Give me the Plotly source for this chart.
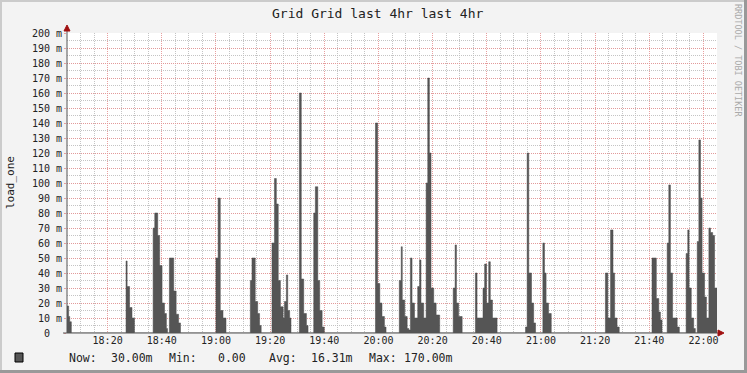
import datetime as dt
import plotly.graph_objects as go

# ---- data (minutes after 18:05, load_one in milli-units) ----
start = dt.datetime(2024, 1, 1, 18, 5, 0)
minutes = [0.0, 0.6, 1.0, 1.6,
           21.8, 22.2, 23.1, 24.0, 24.9,
           31.8, 32.4, 33.5, 34.2, 35.1, 36.0, 36.7, 37.1,
           37.8, 39.4, 40.3, 41.2, 41.9,
           55.0, 55.8, 56.6, 57.6, 58.7,
           67.7, 68.3, 69.5, 70.4, 71.1, 71.7,
           75.7, 76.6, 77.3, 78.0, 78.8, 79.8, 80.3, 81.0, 81.5, 82.2, 82.7,
           85.8, 86.5, 87.4, 88.4, 89.0,
           91.1, 91.7, 92.6, 93.3, 94.2, 95.0,
           113.9, 114.7, 115.5, 116.3, 117.2, 117.8,
           122.7, 123.4, 123.8, 124.7, 125.6, 126.2, 126.8, 127.4, 128.3, 129.5, 130.2, 130.7,
           131.7, 132.6, 133.2, 133.8, 134.4, 135.4, 136.3, 137.6,
           142.6, 143.3, 143.8, 144.6, 145.9,
           150.8, 151.4, 153.6, 154.2, 154.9, 155.7, 156.3, 157.1, 158.8,
           169.3, 169.9, 170.5, 171.5, 172.3, 173.0,
           175.7, 176.3, 176.9, 177.8, 178.8,
           198.8, 199.7, 200.7, 201.6, 202.2, 203.1, 203.9,
           216.0, 217.6, 218.5, 219.1, 219.7,
           221.6, 222.2, 222.8, 223.6, 225.3, 226.1,
           228.6, 229.2, 229.7, 230.5, 231.4, 232.0,
           232.7, 233.3, 233.9, 234.5, 235.4, 236.1, 237.0, 237.6, 238.4, 239.1, 240.0]
values = [18, 11, 7.5, 0,
          48, 31, 17, 10, 0,
          70, 80, 65, 45, 20, 13, 3, 0,
          50, 28, 12.5, 6.7, 0,
          50, 90, 15, 10, 0,
          35, 50, 21, 13, 5, 0,
          60, 103, 86, 35, 17.5, 10, 21, 38.7, 15, 10, 0,
          160, 36, 13, 5, 0,
          80, 97.5, 35, 15, 4, 0,
          140, 33, 20, 11, 4, 0,
          35, 57.5, 22, 11, 3, 2, 50, 20, 10, 31, 48.7, 20,
          10, 100, 170, 120, 30, 20, 12, 0,
          30, 58.7, 20, 11, 0,
          40, 10, 30, 46, 20, 47.5, 22, 10, 0,
          4, 120, 40, 20, 6.7, 0,
          60, 40, 20, 13, 0,
          40, 10, 68.7, 40, 10, 4, 0,
          50, 23, 14, 8.7, 0,
          60, 98.7, 40, 10, 4, 0,
          53, 68.7, 30, 10, 3, 0,
          61, 128.7, 90, 40, 24, 10, 70, 67, 65, 30, 30]
y_ticks = list(range(0, 201, 10))
y_labels = ["0\u00a0\u00a0"] + [f"{v}\u00a0m" for v in y_ticks[1:]]
legend_parts = [("Now:", 67), ("30.00m", 109), ("Min:", 167), ("0.00", 216),
                ("Avg:", 267), ("16.31m", 309), ("Max:", 367), ("170.00m", 402)]
title_text = "Grid Grid last 4hr last 4hr"
y_title = "load_one"
side_text = "RRDTOOL / TOBI OETIKER"

times = [start + dt.timedelta(minutes=m) for m in minutes]

W, H = 747, 373
L, R, T, B = 67, 30, 33, 40
PW, PH = W - L - R, H - T - B


def px(x):
    return (x - L) / PW


def py(y):
    return (H - B - y) / PH


MONO = "DejaVu Sans Mono"
fig = go.Figure()
fig.add_trace(go.Scatter(
    x=times, y=values, mode="lines", line=dict(shape="hv", width=0.5, color="#4a4a4a"),
    fill="tozeroy", fillcolor="#555555", hoverinfo="skip", showlegend=False))

grid_major = "rgba(230,150,150,0.9)"
grid_minor = "rgba(190,190,190,0.9)"
fig.update_layout(
    width=W, height=H, margin=dict(l=L, r=R, t=T, b=B),
    paper_bgcolor="#F3F3F3", plot_bgcolor="#FFFFFF",
    showlegend=False,
    xaxis=dict(
        type="date", range=[start, start + dt.timedelta(minutes=240)],
        tick0="2024-01-01 18:00:00", dtick=20 * 60 * 1000, tickformat="%H:%M",
        showgrid=True, gridcolor=grid_major, griddash="1px,1px", gridwidth=1,
        minor=dict(dtick=5 * 60 * 1000, tick0="2024-01-01 18:00:00", showgrid=True,
                   gridcolor=grid_minor, griddash="1px,1px", gridwidth=1),
        ticks="", 
        tickfont=dict(family=MONO, size=10, color="#222"),
        showline=False, zeroline=False, fixedrange=True),
    yaxis=dict(
        range=[0, 200], tickvals=y_ticks, ticktext=y_labels,
        showgrid=True, gridcolor=grid_major, griddash="1px,1px", gridwidth=1,
        minor=dict(dtick=5, showgrid=True, gridcolor=grid_minor, griddash="1px,1px", gridwidth=1),
        ticks="outside", ticklen=2, tickcolor=grid_major,
        tickfont=dict(family=MONO, size=10, color="#222"),
        showline=False, zeroline=False, fixedrange=True),
)

shapes = []
# axes lines
shapes.append(dict(type="line", xref="paper", yref="paper", x0=px(67), x1=px(67), y0=py(333), y1=py(30),
                   line=dict(color="#555", width=1)))
shapes.append(dict(type="line", xref="paper", yref="paper", x0=px(63), x1=px(719), y0=py(333), y1=py(333),
                   line=dict(color="#555", width=1)))
# arrows
shapes.append(dict(type="path", xref="paper", yref="paper",
                   path=f"M {px(64)},{py(31)} L {px(70)},{py(31)} L {px(67)},{py(25)} Z",
                   fillcolor="#A01010", line=dict(color="#A01010", width=1)))
shapes.append(dict(type="path", xref="paper", yref="paper",
                   path=f"M {px(718)},{py(330)} L {px(718)},{py(336)} L {px(724)},{py(333)} Z",
                   fillcolor="#A01010", line=dict(color="#A01010", width=1)))
# legend swatch
shapes.append(dict(type="rect", xref="paper", yref="paper", x0=px(15), x1=px(23), y0=py(362), y1=py(353),
                   fillcolor="#555555", line=dict(color="#000", width=1)))
# frame shading
shapes.append(dict(type="rect", xref="paper", yref="paper", x0=px(0), x1=px(747), y0=py(0), y1=py(2),
                   fillcolor="#CBCBCB", line=dict(width=0)))
shapes.append(dict(type="rect", xref="paper", yref="paper", x0=px(0), x1=px(2), y0=py(0), y1=py(373),
                   fillcolor="#CBCBCB", line=dict(width=0)))
shapes.append(dict(type="rect", xref="paper", yref="paper", x0=px(744), x1=px(747), y0=py(0), y1=py(373),
                   fillcolor="#999999", line=dict(width=0)))
shapes.append(dict(type="rect", xref="paper", yref="paper", x0=px(0), x1=px(747), y0=py(370), y1=py(373),
                   fillcolor="#999999", line=dict(width=0)))
fig.update_layout(shapes=shapes)

ann = []
ann.append(dict(text=title_text, xref="paper", yref="paper", x=px(377), y=py(13),
                xanchor="center", yanchor="middle", showarrow=False,
                font=dict(family=MONO, size=13, color="#222")))
ann.append(dict(text=y_title, xref="paper", yref="paper", x=px(10), y=py(183),
                xanchor="center", yanchor="middle", textangle=-90, showarrow=False,
                font=dict(family=MONO, size=11, color="#222")))
ann.append(dict(text=side_text, xref="paper", yref="paper", x=px(738), y=py(60),
                xanchor="center", yanchor="middle", textangle=90, showarrow=False,
                font=dict(family=MONO, size=8.5, color="#AAAAAA")))
for txt, xpos in legend_parts:
    ann.append(dict(text=txt, xref="paper", yref="paper", x=px(xpos), y=py(358),
                    xanchor="left", yanchor="middle", showarrow=False,
                    font=dict(family=MONO, size=11.5, color="#222")))
fig.update_layout(annotations=ann)

fig.write_html("out.html")
